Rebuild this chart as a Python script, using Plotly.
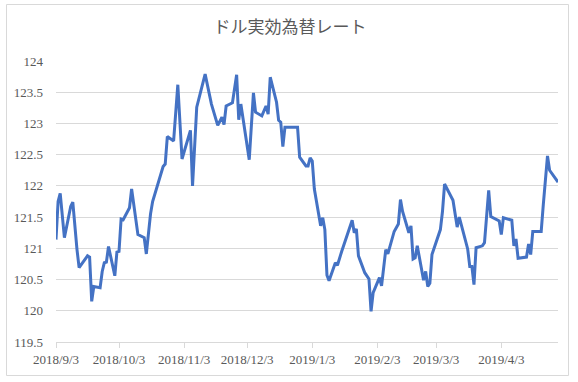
import plotly.graph_objects as go

dates = [
    "2018-09-03", "2018-09-04", "2018-09-05", "2018-09-07", "2018-09-10", "2018-09-11",
    "2018-09-13", "2018-09-14", "2018-09-18", "2018-09-19", "2018-09-20", "2018-09-21",
    "2018-09-24", "2018-09-25", "2018-09-26", "2018-09-27", "2018-09-28", "2018-10-01",
    "2018-10-02", "2018-10-03", "2018-10-04", "2018-10-05", "2018-10-08", "2018-10-09",
    "2018-10-12", "2018-10-15", "2018-10-16", "2018-10-18", "2018-10-19", "2018-10-22",
    "2018-10-24", "2018-10-25", "2018-10-26", "2018-10-29", "2018-10-31", "2018-11-02",
    "2018-11-06", "2018-11-07", "2018-11-09", "2018-11-13", "2018-11-16", "2018-11-19",
    "2018-11-21", "2018-11-22", "2018-11-23", "2018-11-26", "2018-11-28", "2018-11-29",
    "2018-11-30", "2018-12-04", "2018-12-06", "2018-12-07", "2018-12-10", "2018-12-12",
    "2018-12-13", "2018-12-14", "2018-12-17", "2018-12-18", "2018-12-19", "2018-12-20",
    "2018-12-21", "2018-12-27", "2018-12-28", "2018-12-31", "2019-01-01", "2019-01-02",
    "2019-01-03", "2019-01-04", "2019-01-07", "2019-01-08", "2019-01-09", "2019-01-10",
    "2019-01-11", "2019-01-14", "2019-01-15", "2019-01-17", "2019-01-22", "2019-01-23",
    "2019-01-24", "2019-01-25", "2019-01-28", "2019-01-30", "2019-01-31", "2019-02-01",
    "2019-02-04", "2019-02-05", "2019-02-07", "2019-02-08", "2019-02-11", "2019-02-13",
    "2019-02-14", "2019-02-15", "2019-02-18", "2019-02-19", "2019-02-20", "2019-02-21",
    "2019-02-22", "2019-02-25", "2019-02-26", "2019-02-27", "2019-02-28", "2019-03-01",
    "2019-03-04", "2019-03-05", "2019-03-06", "2019-03-07", "2019-03-11", "2019-03-13",
    "2019-03-14", "2019-03-18", "2019-03-19", "2019-03-20", "2019-03-21", "2019-03-22",
    "2019-03-25", "2019-03-26", "2019-03-28", "2019-03-29", "2019-04-02", "2019-04-03",
    "2019-04-04", "2019-04-08", "2019-04-09", "2019-04-10", "2019-04-11", "2019-04-15",
    "2019-04-16", "2019-04-17", "2019-04-18", "2019-04-22", "2019-04-23", "2019-04-25",
    "2019-04-26", "2019-04-30",
]

rates = [
    121.14, 121.75, 121.88, 121.17, 121.67, 121.74,
    120.98, 120.69, 120.88, 120.86, 120.15, 120.39,
    120.37, 120.63, 120.77, 120.78, 121.03, 120.56,
    120.94, 120.95, 121.47, 121.46, 121.65, 121.95,
    121.22, 121.17, 120.91, 121.55, 121.75, 122.07,
    122.31, 122.35, 122.79, 122.72, 123.62, 122.43,
    122.89, 122.00, 123.26, 123.79, 123.31, 122.97,
    123.10, 122.98, 123.28, 123.33, 123.78, 123.06,
    123.31, 122.42, 123.49, 123.18, 123.12, 123.28,
    123.15, 123.74, 123.34, 123.05, 123.02, 122.63,
    122.94, 122.94, 122.46, 122.32, 122.32, 122.45,
    122.40, 121.95, 121.36, 121.49, 121.30, 120.57,
    120.48, 120.77, 120.73, 120.95, 121.45, 121.25,
    121.31, 120.88, 120.61, 120.51, 119.99, 120.29,
    120.53, 120.40, 120.98, 120.91, 121.27, 121.39,
    121.78, 121.59, 121.25, 121.36, 120.83, 120.85,
    121.04, 120.49, 120.63, 120.39, 120.44, 120.90,
    121.19, 121.30, 121.59, 122.03, 121.77, 121.34,
    121.50, 120.99, 120.71, 120.71, 120.42, 121.01,
    121.04, 121.09, 121.93, 121.51, 121.44, 121.22,
    121.49, 121.45, 121.04, 121.15, 120.84, 120.86,
    121.07, 120.90, 121.27, 121.27, 121.70, 122.48,
    122.25, 122.06,
]

tick_dates = ["2018-09-03", "2018-10-03", "2018-11-03", "2018-12-03",
              "2019-01-03", "2019-02-03", "2019-03-03", "2019-04-03"]
tick_labels = ["2018/9/3", "2018/10/3", "2018/11/3", "2018/12/3",
               "2019/1/3", "2019/2/3", "2019/3/3", "2019/4/3"]

title_text = "ドル実効為替レート"

W, H = 578, 382
L, R, T, B = 56, 20, 61, 40
pw, ph = W - L - R, H - T - B

fig = go.Figure()
fig.add_trace(go.Scatter(
    x=dates, y=rates, mode="lines",
    line=dict(color="#4472C4", width=3),
    hoverinfo="x+y",
))

# chart border (outer frame)
bx0, bx1, by0, by1 = 6.5, 568.5, 4.5, 375.5
fig.add_shape(type="rect", xref="paper", yref="paper",
              x0=(bx0 - L) / pw, x1=(bx1 - L) / pw,
              y0=(H - B - by1) / ph, y1=(H - B - by0) / ph,
              line=dict(color="#d9d9d9", width=1), fillcolor="rgba(0,0,0,0)",
              layer="below")

fig.update_layout(
    width=W, height=H,
    margin=dict(l=L, r=R, t=T, b=B, pad=0),
    paper_bgcolor="white", plot_bgcolor="white",
    showlegend=False,
    title=dict(text=title_text, x=290 / W, xanchor="center",
               y=1 - 27 / H, yanchor="middle",
               font=dict(family="Noto Sans CJK JP", size=17, color="#595959")),
    font=dict(family="Liberation Serif", size=13, color="#595959"),
    xaxis=dict(
        type="date",
        range=["2018-09-03", "2019-04-30"],
        tickvals=tick_dates, ticktext=tick_labels,
        showgrid=False, showline=True, linecolor="#d9d9d9", linewidth=1,
        ticks="outside", ticklen=5, tickcolor="#d9d9d9", tickwidth=1,
        zeroline=False,
        tickfont=dict(family="Liberation Serif", size=13, color="#595959"),
    ),
    yaxis=dict(
        range=[119.5, 124],
        dtick=0.5, tick0=119.5,
        showgrid=True, gridcolor="#d9d9d9", gridwidth=1,
        zeroline=False, showline=False, ticks="",
        ticklabelstandoff=12,
        tickfont=dict(family="Liberation Serif", size=13, color="#595959"),
    ),
)

fig.write_html("out.html",
               config={"displayModeBar": False},
               post_script="document.body.style.margin='0';document.body.style.overflow='hidden';")
